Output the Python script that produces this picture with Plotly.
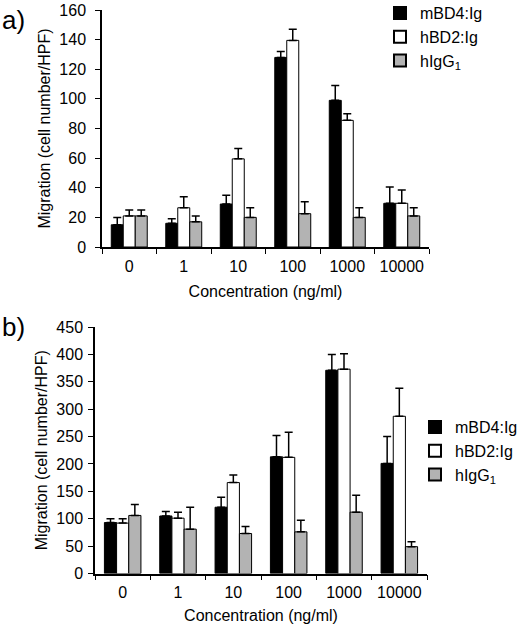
import plotly.graph_objects as go

categories = ["0", "1", "10", "100", "1000", "10000"]
series_names = ["mBD4:Ig", "hBD2:Ig", "hIgG<sub>1</sub>"]
colors = ["#000000", "#ffffff", "#b3b3b3"]

# panel a) means and error-bar tops
a_mbd4 = [15, 16, 29, 128, 99, 29.5]
a_mbd4_top = [20, 19, 35, 132, 109, 40.5]
a_hbd2 = [21, 26.5, 59.5, 139.5, 85.5, 29.5]
a_hbd2_top = [25, 34, 66.5, 147, 90, 38.5]
a_higg = [21, 17, 20, 22.5, 20, 21]
a_higg_top = [25, 21, 26.5, 30.5, 26.5, 26.5]
a_ticks = [0, 20, 40, 60, 80, 100, 120, 140, 160]

# panel b) means and error-bar tops
b_mbd4 = [93, 105, 121, 213, 371, 201]
b_mbd4_top = [100, 113, 139, 252, 400, 250]
b_hbd2 = [92, 101, 166, 212, 373, 287]
b_hbd2_top = [100, 112, 180, 258, 401, 338]
b_higg = [106, 81, 73, 76, 112, 49]
b_higg_top = [126, 121, 86, 97, 143, 58]
b_ticks = [0, 50, 100, 150, 200, 250, 300, 350, 400, 450]

font_family = "Liberation Sans, Arial, sans-serif"
fig = go.Figure()

panels = [
    ("x", "y", "legend", [a_mbd4, a_hbd2, a_higg], [a_mbd4_top, a_hbd2_top, a_higg_top]),
    ("x2", "y2", "legend2", [b_mbd4, b_hbd2, b_higg], [b_mbd4_top, b_hbd2_top, b_higg_top]),
]
for xa, ya, lg, vals, tops in panels:
    for name, col, v, t in zip(series_names, colors, vals, tops):
        fig.add_trace(go.Bar(
            x=categories, y=v, name=name, xaxis=xa, yaxis=ya, legend=lg,
            marker=dict(color=col, line=dict(color="#000000", width=1)),
            error_y=dict(type="data", symmetric=False,
                         array=[tt - vv for tt, vv in zip(t, v)],
                         arrayminus=[0] * len(v),
                         color="#000000", thickness=1.5, width=4),
        ))

W, H = 520, 624
axis_font = dict(family=font_family, size=16, color="#000000")
common_x = dict(type="category", showline=True, linecolor="#000000", linewidth=1.5,
                ticks="outside", tickson="boundaries", ticklen=5, tickcolor="#000000",
                showgrid=False, tickfont=axis_font, automargin=False, ticklabelstandoff=4,
                title=dict(text="Concentration (ng/ml)", font=axis_font, standoff=12))
common_y = dict(showline=True, linecolor="#000000", linewidth=1.5, ticks="outside",
                ticklen=5, tickcolor="#000000", showgrid=False, zeroline=False,
                tickfont=axis_font, automargin=False, tickmode="array",
                title=dict(text="Migration (cell number/HPF)", font=axis_font, standoff=5))

fig.update_layout(
    width=W, height=H,
    margin=dict(l=0, r=0, t=0, b=0, autoexpand=False),
    paper_bgcolor="#ffffff", plot_bgcolor="#ffffff",
    barmode="group", bargap=0.34, bargroupgap=0,
    font=dict(family=font_family, color="#000000"),
    xaxis=dict(common_x, domain=[102 / W, 429 / W], anchor="y"),
    yaxis=dict(common_y, domain=[1 - 247 / H, 1 - 10 / H], range=[0, 160.01],
               tickvals=a_ticks, ticklabelstandoff=6, anchor="x"),
    xaxis2=dict(common_x, domain=[95 / W, 427 / W], anchor="y2"),
    yaxis2=dict(common_y, domain=[1 - 573.5 / H, 1 - 327 / H], range=[0, 450.01],
                tickvals=b_ticks, ticklabelstandoff=2, anchor="x2"),
    legend=dict(x=380 / W, y=1 + 4 / H, xanchor="left", yanchor="top",
                font=dict(family=font_family, size=16, color="#000000"),
                bgcolor="rgba(0,0,0,0)", tracegroupgap=0, itemsizing="constant"),
    legend2=dict(x=415 / W, y=1 - 410 / H, xanchor="left", yanchor="top",
                 font=dict(family=font_family, size=16, color="#000000"),
                 bgcolor="rgba(0,0,0,0)", tracegroupgap=0, itemsizing="constant"),
    annotations=[
        dict(text="a)", x=0, y=1 - 3 / H, xref="paper", yref="paper", xanchor="left",
             yanchor="top", showarrow=False,
             font=dict(family=font_family, size=26, color="#000000")),
        dict(text="b)", x=0, y=1 - 310 / H, xref="paper", yref="paper", xanchor="left",
             yanchor="top", showarrow=False,
             font=dict(family=font_family, size=26, color="#000000")),
    ],
)

fig.write_html("out.html", config={"displayModeBar": False},
               post_script="document.body.style.margin='0';document.body.style.overflow='hidden';")
